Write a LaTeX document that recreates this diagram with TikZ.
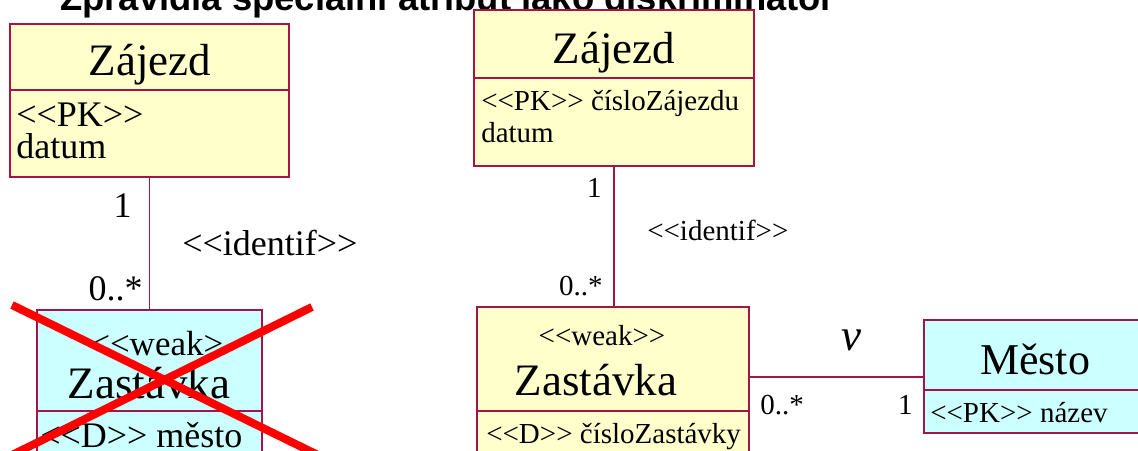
\documentclass[tikz,border=0pt]{standalone}
\usepackage{fontspec}
\setmainfont{Liberation Serif}[Ligatures=TeXOff]
\setsansfont{Liberation Sans}
\usetikzlibrary{fit}
\definecolor{bord}{RGB}{165,20,70}
\definecolor{ylw}{RGB}{255,255,204}
\definecolor{cyn}{RGB}{204,255,255}
\newcommand\fs[1]{\fontsize{#1}{#1}\selectfont}
\begin{document}
\begin{tikzpicture}[x=0.75pt,y=-0.75pt,
 box/.style={draw=bord,line width=1.1pt,inner sep=0pt},
 yb/.style={box,fill=ylw}, cb/.style={box,fill=cyn},
 divider/.style={draw=bord,line width=1.1pt},
 conn/.style={draw=bord,line width=0.8pt},
 txt/.style={inner sep=0pt,anchor=base},
 txtw/.style={inner sep=0pt,anchor=base west},
 txte/.style={inner sep=0pt,anchor=base east},
 big/.style={font=\fs{33.75pt}},
 mid/.style={font=\fs{27pt}},
 sml/.style={font=\fs{21.75pt}},
 cross/.style={draw=red,line width=6pt}]
\useasboundingbox (0,0) rectangle (1138,450);
\clip (0,0) rectangle (1138,450);

% title (cut off at top)
\node[txtw,font=\sffamily\bfseries\fs{27.3pt}] (title) at (60,10) {Zpravidla speciální atribut jako diskriminátor};

% ---------- left diagram ----------
\node[yb,fit={(10,24) (289,177)}] (zl) {};
\draw[divider] (zl.west |- 0,90) -- (zl.east |- 0,90);
\node[txt,big] (zlt) at (150,75) {Zájezd};
\node[txtw,mid] (zla1) at (16,126) {<<PK>>};
\node[txtw,mid] (zla2) at (16,158) {datum};

\node[cb,fit={(37,310) (262,480)}] (zsl) {};
\draw[divider] (zsl.west |- 0,411) -- (zsl.east |- 0,411);
\node[txtw,font=\fs{26.25pt}] (zslw) at (90,355) {<<weak>};
\node[txt,big] (zslt) at (149,398) {Zastávka};
\node[txtw,mid] (zsla) at (40,447) {<<D>> město};

\draw[conn] (zl.south) -- (zsl.north);
\node[txte,mid] (l1) at (132,217) {1};
\node[txtw,mid] (lid) at (182,255) {<<identif>>};
\node[txte,mid] (lm) at (143,300) {0..*};

\draw[cross] (12,305) -- (320,456);
\draw[cross] (312,307) -- (12,455);

% ---------- right diagram ----------
\node[yb,fit={(474,10) (754,166)}] (zr) {};
\draw[divider] (zr.west |- 0,78) -- (zr.east |- 0,78);
\node[txt,big] (zrt) at (614,63) {Zájezd};
\node[txtw,sml] (zra1) at (481,110) {<<PK>> čísloZájezdu};
\node[txtw,sml] (zra2) at (481,142) {datum};

\node[yb,fit={(477,307) (749,480)}] (zsr) {};
\draw[divider] (zsr.west |- 0,411) -- (zsr.east |- 0,411);
\node[txt,sml] (zsrw) at (602,345) {<<weak>>};
\node[txt,big] (zsrt) at (596,395) {Zastávka};
\node[txtw,sml] (zsra) at (486,443) {<<D>> čísloZastávky};

\draw[conn] (zr.south) -- (zr.south |- zsr.north);
\node[txte,sml] (r1) at (602,197) {1};
\node[txtw,sml] (rid) at (647,240) {<<identif>>};
\node[txte,sml] (rm) at (603,295) {0..*};

\node[cb,fit={(924,320) (1170,433)}] (me) {};
\draw[divider] (me.west |- 0,390) -- (me.east |- 0,390);
\node[txt,font=\fs{33pt}] (met) at (1035,374) {Město};
\node[txtw,sml] (mea) at (930,422) {<<PK>> název};

\coordinate (a) at (0,377);
\draw[conn] (zsr.east |- a) -- (me.west |- a);
\node[txt,font=\itshape\fs{33.75pt}] (av) at (851,350) {v};
\node[txtw,sml] (am) at (760,414) {0..*};
\node[txte,sml] (a1) at (913,414) {1};
\end{tikzpicture}
\end{document}
